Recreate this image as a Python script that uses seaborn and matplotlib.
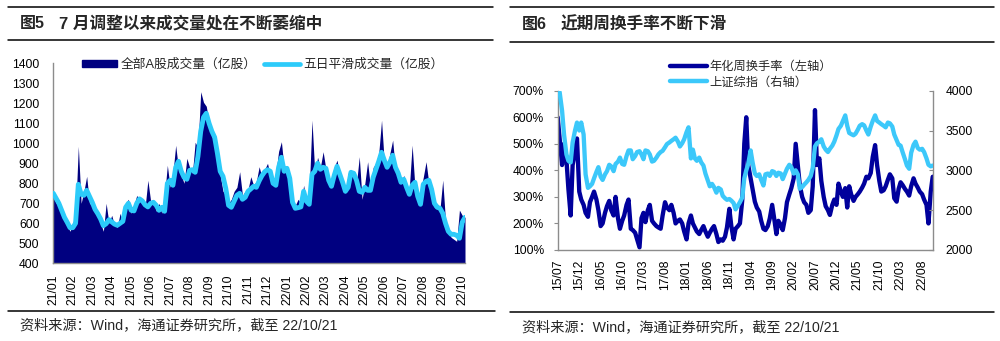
import numpy as np
import pandas as pd
import matplotlib
matplotlib.use('Agg')
import matplotlib.pyplot as plt
import seaborn as sns
from matplotlib.lines import Line2D
from matplotlib.patches import Patch

sns.set_theme(style='white')
plt.rcParams['font.family'] = ['Liberation Sans', 'Noto Sans CJK SC', 'DejaVu Sans']
plt.rcParams['axes.unicode_minus'] = False

# ---------------- Figure 5 data (7 readings per month, 21/01 .. 22/10) ----------------
vol_tick_labels = ['21/01', '21/02', '21/03', '21/04', '21/05', '21/06', '21/07', '21/08',
                   '21/09', '21/10', '21/11', '21/12', '22/01', '22/02', '22/03', '22/04',
                   '22/05', '22/06', '22/07', '22/08', '22/09', '22/10']
volume = [
    740, 700, 720, 650, 640, 590, 560,      # 21/01
    600, 650, 985, 700, 760, 835, 700,      # 21/02
    690, 650, 660, 600, 560, 700, 600,      # 21/03
    640, 590, 580, 650, 600, 700, 720,      # 21/04
    650, 690, 740, 710, 720, 680, 815,      # 21/05
    710, 720, 660, 700, 650, 740, 890,      # 21/06
    780, 850, 990, 870, 840, 800, 925,      # 21/07
    880, 850, 1005, 980, 1258, 1205, 1185,  # 21/08
    1100, 1035, 1000, 900, 840, 760, 740,   # 21/09
    700, 720, 760, 780, 858, 740, 760,      # 21/10
    770, 833, 790, 810, 883, 830, 870,      # 21/11
    900, 840, 790, 850, 960, 1008, 870,     # 21/12
    880, 780, 680, 690, 720, 700, 790,      # 22/01
    700, 760, 1116, 850, 930, 880, 958,     # 22/02
    870, 800, 830, 880, 916, 830, 790,      # 22/03
    750, 850, 870, 830, 800, 933, 720,      # 22/04
    800, 908, 780, 880, 900, 950, 1116,     # 22/05
    900, 880, 950, 1016, 860, 830, 800,     # 22/06
    840, 760, 780, 991, 780, 720, 760,      # 22/07
    830, 908, 800, 740, 680, 700, 670,      # 22/08
    816, 610, 560, 530, 520, 510, 666,      # 22/09
    640, 630,                               # 22/10
]
ma5 = [
    750, 725, 700, 665, 630, 605, 578,
    578, 600, 795, 745, 740, 765, 735,
    705, 670, 648, 622, 588, 598, 618,
    607, 596, 590, 600, 610, 680, 700,
    665, 662, 700, 722, 712, 692, 682,
    700, 705, 690, 665, 680, 660, 800,
    815, 790, 880, 910, 860, 830, 820,
    865, 868, 855, 935, 1060, 1130, 1150,
    1100, 1060, 1030, 950, 860, 835, 775,
    690, 680, 710, 740, 750, 720, 730,
    760, 772, 785, 780, 812, 838, 858,
    868, 860, 800, 790, 880, 930, 860,
    875, 825, 705, 675, 678, 682, 760,
    710, 695, 845, 860, 900, 870, 880,
    875, 815, 785, 840, 885, 845, 805,
    760, 780, 855, 850, 815, 760, 755,
    780, 765, 765, 830, 870, 910, 955,
    915, 880, 905, 940, 880, 850, 805,
    820, 780, 745, 790, 805, 735, 695,
    795, 810, 815, 770, 700, 680, 675,
    650, 600, 560, 545, 545, 540, 525,
    605, 630,
]
vol_legend = ['全部A股成交量（亿股）', '五日平滑成交量（亿股）']

# ---------------- Figure 6 data (semi-monthly, 15/07 .. 22/10) ----------------
turn_tick_labels = ['15/07', '15/12', '16/05', '16/10', '17/03', '17/08', '18/01', '18/06',
                    '18/11', '19/04', '19/09', '20/02', '20/07', '20/12', '21/05', '21/10',
                    '22/03', '22/08']
turnover = [
    600, 520, 420, 500, 440, 330, 230, 420, 470, 520, 320, 290,
    270, 240, 225, 280, 300, 320, 290, 250, 190, 200, 240, 265,
    285, 250, 230, 300, 220, 180, 210, 230, 270, 290, 180, 175,
    165, 140, 110, 220, 240, 205, 250, 270, 210, 200, 190, 185,
    180, 230, 280, 260, 250, 270, 240, 200, 210, 215, 200, 170,
    140, 200, 230, 200, 185, 170, 160, 175, 190, 170, 150, 165,
    180, 190, 160, 130, 140, 135, 150, 185, 255, 190, 140, 180,
    190, 200, 290, 500, 600, 420, 370, 330, 282, 260, 245, 210,
    180, 175, 190, 219, 270, 220, 160, 210, 195, 175, 220, 280,
    310, 333, 370, 500, 420, 345, 300, 280, 270, 240, 250, 340,
    627, 420, 445, 360, 300, 265, 250, 232, 270, 290, 270, 350,
    320, 300, 333, 260, 340, 310, 285, 300, 310, 320, 335, 350,
    376, 370, 390, 450, 495, 420, 360, 320, 325, 340, 365, 385,
    370, 295, 282, 330, 355, 345, 330, 320, 305, 340, 370, 350,
    335, 320, 310, 290, 270, 200, 320, 376,
]
sh_index = [
    4000, 3980, 3750, 3450, 3200, 3120, 3100, 3350, 3500, 3600, 3500, 3600,
    3450, 2950, 2780, 2800, 2830, 2900, 2980, 3040, 2920, 2880, 2950, 2990,
    3070, 3050, 2990, 3080, 3110, 3160, 3080, 3070, 3180, 3250, 3250, 3140,
    3180, 3230, 3240, 3200, 3140, 3250, 3240, 3200, 3110, 3120, 3160, 3200,
    3230, 3245, 3290, 3330, 3350, 3370, 3390, 3410, 3360, 3300, 3340, 3390,
    3480, 3540, 3150, 3260, 3150, 3120, 3160, 3100, 3060, 2960, 2870, 2800,
    2830, 2790, 2720, 2780, 2760, 2680, 2650, 2630, 2640, 2620, 2590, 2510,
    2560, 2600, 2660, 2900, 3000, 3080, 3250, 3100, 2960, 2930, 2950, 2880,
    2810, 2950, 2960, 2930, 2990, 2980, 2930, 2970, 2960, 2890, 2960, 3020,
    3070, 3040, 2960, 3000, 2950, 2770, 2790, 2820, 2850, 2880, 2930, 3030,
    3300, 3340, 3360, 3390, 3300, 3260, 3230, 3270, 3310, 3360, 3440, 3520,
    3560, 3620, 3690, 3560, 3470, 3455, 3440, 3460, 3510, 3560, 3580, 3565,
    3500, 3450, 3550, 3620, 3690, 3620, 3600, 3580, 3560, 3540, 3600, 3590,
    3550, 3450, 3380, 3320, 3310, 3230, 3140, 3060, 3020, 3220, 3320, 3360,
    3280, 3260, 3270, 3230, 3150, 3070, 3050, 3060,
]
turn_legend = ['年化周换手率（左轴）', '上证综指（右轴）']

NAVY = '#000080'
CYAN = '#2CCBFA'
DARK = '#00009C'
LIGHT = '#3CC8FA'
GRAY = '#8C8C8C'

W, H = 1000, 341
fig = plt.figure(figsize=(W / 100, H / 100), dpi=100)
fig.patch.set_facecolor('white')


def fx(px):
    return px / W


def fy(py):
    return 1 - py / H


def rule(x0, x1, y):
    fig.add_artist(Line2D([fx(x0), fx(x1)], [fy(y), fy(y)], color='black', lw=1.1,
                          transform=fig.transFigure))


# frame rules
rule(8, 493, 6.7); rule(8, 493, 40.3); rule(8, 495, 311)
rule(510, 994, 6.7); rule(510, 994, 41.5); rule(510, 994, 312)

# titles
fig.text(fx(20), fy(23.5), '图5', fontsize=11.5, fontweight='bold', ha='left', va='center')
fig.text(fx(59), fy(23.5), '7 月调整以来成交量处在不断萎缩中', fontsize=12,
         fontweight='bold', ha='left', va='center')
fig.text(fx(522), fy(24), '图6', fontsize=11.5, fontweight='bold', ha='left', va='center')
fig.text(fx(561), fy(24), '近期周换手率不断下滑', fontsize=12,
         fontweight='bold', ha='left', va='center')
fig.text(fx(20), fy(325), '资料来源：Wind，海通证券研究所，截至 22/10/21', fontsize=10.2,
         ha='left', va='center')
fig.text(fx(522), fy(327), '资料来源：Wind，海通证券研究所，截至 22/10/21', fontsize=10.2,
         ha='left', va='center')

# ---------------- Left chart ----------------
ax1 = fig.add_axes([fx(53.3), fy(263.3), fx(465) - fx(53.3), fy(63.3) - fy(263.3)])
df1 = pd.DataFrame({'i': np.arange(len(volume)), 'vol': volume, 'ma': ma5})
ax1.fill_between(df1['i'], 0, df1['vol'], color=NAVY, lw=0, zorder=2)
sns.lineplot(data=df1, x='i', y='ma', ax=ax1, color=CYAN, lw=3.5, zorder=3,
             solid_joinstyle='round', solid_capstyle='round')
ax1.set_xlim(0, len(volume) - 1)
ax1.set_ylim(400, 1400)
ax1.set_yticks(np.arange(400, 1401, 100))
ax1.set_xticks(np.arange(len(vol_tick_labels)) * 7)
ax1.set_xticklabels(vol_tick_labels, rotation=90)
ax1.set_xlabel(''); ax1.set_ylabel('')
for s in ['top', 'right']:
    ax1.spines[s].set_visible(False)
for s in ['left', 'bottom']:
    ax1.spines[s].set_color(GRAY); ax1.spines[s].set_linewidth(1.0)
ax1.tick_params(axis='both', direction='out', length=3, width=0.8, color=GRAY,
                labelsize=8.7, labelcolor='black')
ax1.tick_params(axis='y', pad=7)
ax1.tick_params(axis='x', pad=5)
ax1.set_facecolor('white')
ax1.grid(False)
h1 = [Patch(facecolor=NAVY, edgecolor=NAVY), Line2D([], [], color=CYAN, lw=3.4)]
leg = ax1.legend(h1, vol_legend, ncol=2, loc='center left', frameon=False, fontsize=9.2,
                 handlelength=2.8, handleheight=0.5, handletextpad=0.25, columnspacing=0.6,
                 borderpad=0, borderaxespad=0)
leg.set_bbox_to_anchor(((81.5 - 53.3) / (465 - 53.3), 1 - (65 - 63.3) / 200),
                       transform=ax1.transAxes)

# ---------------- Right chart ----------------
ax2 = fig.add_axes([fx(557.7), fy(250), fx(932.7) - fx(557.7), fy(90.7) - fy(250)])
dates = pd.date_range('2015-07-01', periods=len(turnover), freq='SMS')
dates_sh = pd.date_range('2015-07-01', periods=len(sh_index), freq='SMS')
df2 = pd.DataFrame({'date': dates, 'turn': turnover})
df3 = pd.DataFrame({'date': dates_sh, 'sh': sh_index})
sns.lineplot(data=df2, x='date', y='turn', ax=ax2, color=DARK, lw=3.1, zorder=2)
ax2r = ax2.twinx()
sns.lineplot(data=df3, x='date', y='sh', ax=ax2r, color=LIGHT, lw=3.1, zorder=3)
ax2.set_xlim(dates[0], dates[-1])
ax2.set_ylim(100, 700)
ax2.set_yticks(np.arange(100, 701, 100))
ax2.set_yticklabels([f'{v}%' for v in range(100, 701, 100)])
ax2r.set_ylim(2000, 4000)
ax2r.set_yticks(np.arange(2000, 4001, 500))
tick_dates = pd.date_range('2015-07-01', periods=len(turn_tick_labels), freq='5MS')
ax2.set_xticks(tick_dates)
ax2.set_xticklabels(turn_tick_labels, rotation=90)
for a in (ax2, ax2r):
    a.set_xlabel(''); a.set_ylabel('')
    a.grid(False)
    a.spines['top'].set_visible(False)
    for s in ['left', 'bottom', 'right']:
        a.spines[s].set_color(GRAY); a.spines[s].set_linewidth(1.0)
ax2.spines['right'].set_visible(False)
ax2r.spines['left'].set_visible(False)
ax2r.spines['bottom'].set_visible(False)
ax2.tick_params(axis='both', direction='out', length=3, width=0.8, color=GRAY,
                labelsize=8.7, labelcolor='black')
ax2.tick_params(axis='y', pad=7)
ax2.tick_params(axis='x', pad=4)
ax2r.tick_params(axis='y', direction='in', length=3, width=0.8, color=GRAY,
                 labelsize=8.7, labelcolor='black', pad=9)
ax2.set_facecolor('none')
h2 = [Line2D([], [], color=DARK, lw=3.2), Line2D([], [], color=LIGHT, lw=3.2)]
fig.legend(h2, turn_legend, loc='upper left', bbox_to_anchor=(fx(670), fy(61)),
           bbox_transform=fig.transFigure, frameon=False, fontsize=8.8, handlelength=3.0,
           handletextpad=0.2, labelspacing=0.3, borderpad=0, borderaxespad=0)

fig.savefig('out.png', dpi=100, facecolor='white')
